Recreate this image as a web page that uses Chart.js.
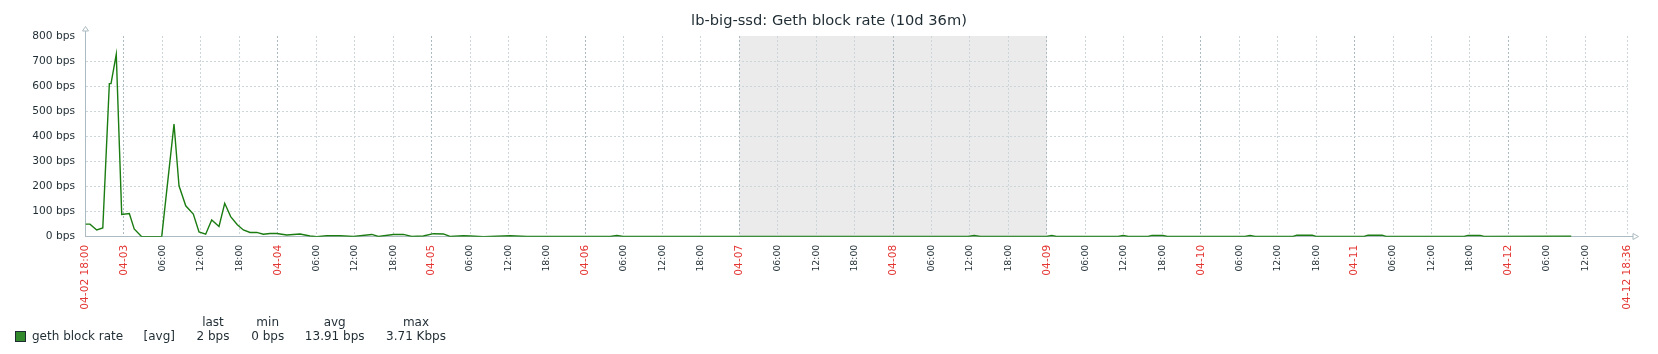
<!DOCTYPE html>
<html>
<head>
<meta charset="utf-8">
<script src="https://cdn.jsdelivr.net/npm/chart.js@4.4.1/dist/chart.umd.min.js"></script>
<style>
  body { margin: 0; background: #fff; }
  #wrap { position: relative; width: 1658px; height: 354px; }
  #legend span { position: absolute; font: 12px "DejaVu Sans"; color: #1f2c33; white-space: nowrap; transform: translate(-50%, -50%); }
  #legend .swatch { position: absolute; left: 15px; top: 331px; width: 9px; height: 9px; background: #338a2c; border: 1px solid #1f2c33; }
</style>
</head>
<body>
<div id="wrap">
  <canvas id="graph" width="1658" height="354"></canvas>
  <div id="legend"></div>
</div>
<script>
// hours since 04-02 18:00
const hours = [0, 0.7, 1.75, 2.7, 3.72, 3.98, 4.8, 5.65, 6.84, 7.6, 8.77, 11.89, 13.81, 14.59, 15.64,
  16.82, 17.71, 18.75, 19.69, 20.83, 21.72, 22.65, 23.69, 24.63, 25.67, 26.72, 27.75, 28.8, 29.84,
  31.4, 33.47, 35.03, 36.08, 37.64, 39.7, 41.79, 44.66, 45.69, 48.03, 49.59, 50.9, 52.71, 54.28,
  55.84, 56.88, 58.96, 60.0, 62.08, 66.24, 68.85, 81.86, 82.9, 83.89, 137.7, 138.65, 139.6, 149.9,
  150.75, 151.5, 161.1, 161.9, 162.7, 165.8, 166.4, 168.1, 168.8, 180.9, 181.7, 182.5, 188.4, 189.0,
  191.4, 192.0, 199.5, 200.1, 202.3, 202.9, 215.1, 215.7, 217.6, 218.2, 231.8];
const bps = [50, 50, 27, 35, 610, 610, 727, 89, 92, 31, 0, 0, 449, 203, 123,
  90, 19, 10, 67, 41, 133, 80, 48, 27, 17, 17, 10, 13, 13,
  7, 11, 3, 0, 4, 4, 1, 9, 1, 9, 9, 1, 3, 12,
  11, 1, 4, 3, 0, 4, 1, 1, 5, 1, 1, 5, 1, 1,
  5, 1, 1, 5, 1, 1, 5, 5, 1, 1, 5, 1, 1, 6,
  6, 1, 1, 6, 6, 1, 1, 5, 5, 1, 2];

const yTicks = [0, 100, 200, 300, 400, 500, 600, 700, 800];
const xEnd = 240.6; // 04-12 18:36
const weekend = [102, 150]; // 04-07 00:00 .. 04-09 00:00

const legendHead = ["last", "min", "avg", "max"];
const legendVals = ["2 bps", "0 bps", "13.91 bps", "3.71 Kbps"];

const txt = "#1f2c33";
const red = "#e33734";
const gridLight = "#ccd5d9";
const gridMain = "#acbbc2";

const isDay = (v) => Math.abs(((18 + v) % 24)) < 0.001;
const pad = (n) => String(n).padStart(2, "0");

function xLabel(v) {
  if (v >= xEnd - 0.01) return "04-12 18:36";
  const t = 18 + v;
  const day = 2 + Math.floor(t / 24);
  const hr = Math.round(t % 24);
  if (v === 0) return "04-02 18:00";
  if (hr === 0) return "04-" + pad(day);
  return pad(hr) + ":00";
}
const isRed = (v) => v === 0 || v >= xEnd - 0.01 || isDay(v);
const tickVal = (c) => (c && c.tick ? c.tick.value : -1);

// non-working time shading + axis arrows
const zbxDecor = {
  id: "zbxDecor",
  beforeDraw(chart) {
    const { ctx, chartArea, scales } = chart;
    const x1 = scales.x.getPixelForValue(weekend[0]);
    const x2 = scales.x.getPixelForValue(weekend[1]);
    ctx.save();
    ctx.fillStyle = "#ebebeb";
    ctx.fillRect(x1, chartArea.top, x2 - x1, chartArea.bottom - chartArea.top);
    ctx.restore();
  },
  afterDraw(chart) {
    const { ctx, chartArea } = chart;
    const l = 85.5, b = 236.5, r = Math.round(chartArea.right);
    ctx.save();
    ctx.strokeStyle = gridMain;
    ctx.fillStyle = "#fff";
    ctx.lineWidth = 1;
    ctx.beginPath();
    ctx.moveTo(l, chartArea.top); ctx.lineTo(l, 31);
    ctx.moveTo(r, b); ctx.lineTo(r + 5, b);
    ctx.stroke();
    ctx.beginPath();
    ctx.moveTo(l - 3, 31); ctx.lineTo(l + 3, 31); ctx.lineTo(l, 26.5); ctx.closePath();
    ctx.fill(); ctx.stroke();
    ctx.beginPath();
    ctx.moveTo(r + 5, b - 3); ctx.lineTo(r + 5, b + 3); ctx.lineTo(r + 10.5, b); ctx.closePath();
    ctx.fill(); ctx.stroke();
    ctx.restore();
  }
};

new Chart(document.getElementById("graph"), {
  type: "line",
  data: {
    datasets: [{
      label: "geth block rate",
      data: hours.map((h, i) => ({ x: h, y: bps[i] })),
      borderColor: "#1a7c11",
      borderWidth: 1.4,
      pointRadius: 0,
      tension: 0,
      fill: false,
    }],
  },
  options: {
    responsive: false,
    animation: false,
    layout: { padding: { left: 30.4, right: 30.4, top: 0, bottom: 0 } },
    plugins: {
      legend: { display: false },
      tooltip: { enabled: false },
      title: {
        display: true,
        text: "lb-big-ssd: Geth block rate (10d 36m)",
        color: txt,
        font: { family: "DejaVu Sans", size: 14.67, weight: "normal" },
        padding: { top: 12.2, bottom: 6.2 },
      },
    },
    scales: {
      x: {
        type: "linear",
        min: 0,
        max: xEnd,
        afterBuildTicks(scale) {
          const t = [];
          for (let v = 0; v < 240; v += 6) t.push({ value: v });
          t.push({ value: xEnd });
          scale.ticks = t;
        },
        afterFit(scale) {
          scale.height = 354 - 236.7;
          scale.paddingLeft = 0;
          scale.paddingRight = 0;
        },
        grid: {
          drawTicks: false,
          lineWidth: 1,
          color: (c) => (isDay(tickVal(c)) ? gridMain : gridLight),
        },
        border: { display: true, color: gridMain, dash: [2, 2] },
        ticks: {
          autoSkip: false,
          minRotation: 90,
          maxRotation: 90,
          padding: 8,
          callback: (v) => xLabel(v),
          color: (c) => (isRed(tickVal(c)) ? red : txt),
          font: (c) => ({ family: "DejaVu Sans", size: isRed(tickVal(c)) ? 10.67 : 9.33 }),
        },
      },
      y: {
        min: 0,
        max: 800,
        afterBuildTicks(scale) {
          scale.ticks = yTicks.map((v) => ({ value: v }));
        },
        afterFit(scale) {
          scale.width = 85.5 - 30.4;
          scale.paddingTop = 0;
          scale.paddingBottom = 0;
        },
        grid: {
          drawTicks: false,
          color: (c) => (tickVal(c) === 800 || tickVal(c) === 0 ? "rgba(0,0,0,0)" : gridLight),
        },
        border: { display: true, color: gridMain, dash: [2, 2] },
        ticks: {
          padding: 10.5,
          color: txt,
          font: { family: "DejaVu Sans", size: 10.67 },
          callback: (v) => v + " bps",
        },
      },
    },
  },
  plugins: [zbxDecor],
});

// legend table
const leg = document.getElementById("legend");
function put(text, x, y, center) {
  const s = document.createElement("span");
  s.textContent = text;
  s.style.left = x + "px";
  s.style.top = y + "px";
  if (!center) s.style.transform = "translate(0, -50%)";
  leg.appendChild(s);
}
const sw = document.createElement("div");
sw.className = "swatch";
leg.appendChild(sw);
put("geth block rate", 32, 336, false);
put("[avg]", 159.3, 336, true);
const colX = [213, 267.7, 334.7, 416];
legendHead.forEach((h, i) => put(h, colX[i], 322, true));
legendVals.forEach((v, i) => put(v, colX[i], 336, true));
</script>
</body>
</html>
